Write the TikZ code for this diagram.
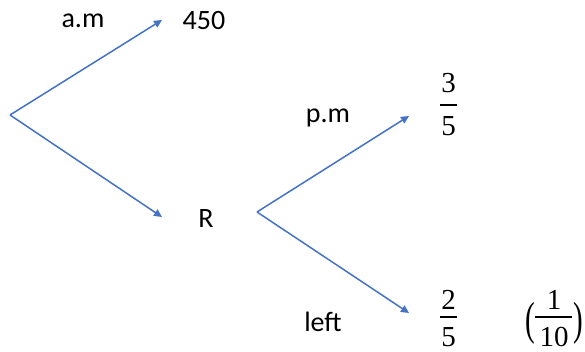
\documentclass[tikz,border=0pt]{standalone}
\usepackage{fontspec}
\setmainfont{Carlito}
\newfontfamily\numfont{Liberation Serif}
\usepackage{graphicx}
\usetikzlibrary{arrows.meta}
\definecolor{branch}{HTML}{4472C4}
\begin{document}
\begin{tikzpicture}[x=1pt,y=-1pt,
  conn/.style={draw=branch,line width=1.5pt,-{Triangle[length=8pt,width=7.5pt]}},
  lbl/.style={inner sep=0pt,font=\fontsize{28}{32}\selectfont},
  digit/.style={inner sep=0pt,anchor=base,font=\fontsize{29}{34}\selectfont\numfont},
  fracbar/.style={line width=1.8pt},
  paren/.style={inner sep=0pt,font=\fontsize{29}{34}\selectfont\numfont}]
\useasboundingbox (0,0) rectangle (585,352);
\coordinate (root) at (10,115);
\coordinate (t1) at (162,20);
\coordinate (t2) at (162,217);
\coordinate (root2) at (257,212);
\coordinate (t3) at (409,116);
\coordinate (t4) at (409,313);
\node[lbl] (am) at (83,21) {a.m};
\node[lbl] (n450) at (204,21) {450};
\node[lbl] (R) at (206,219) {R};
\node[lbl] (pm) at (328,118) {p.m};
\node[lbl] (left) at (323,322) {left};
% 3/5
\node[digit] (n3) at (448.5,93) {3};
\draw[fracbar] (440,105) -- (457,105);
\node[digit] (d5a) at (448.5,136) {5};
% 2/5
\node[digit] (n2) at (448.5,309) {2};
\draw[fracbar] (440,317) -- (457,317);
\node[digit] (d5b) at (448.5,346) {5};
% (1/10)
\node[digit] (n1) at (554,309) {1};
\draw[fracbar] (535,317) -- (572,317);
\node[digit] (d10) at (554,346) {10};
\node[paren] (lp) at (530,323) {\scalebox{1}[1.6]{(}};
\node[paren] (rp) at (578,323) {\scalebox{1}[1.6]{)}};
\draw[conn] (root) -- (t1);
\draw[conn] (root) -- (t2);
\draw[conn] (root2) -- (t3);
\draw[conn] (root2) -- (t4);
\end{tikzpicture}
\end{document}
